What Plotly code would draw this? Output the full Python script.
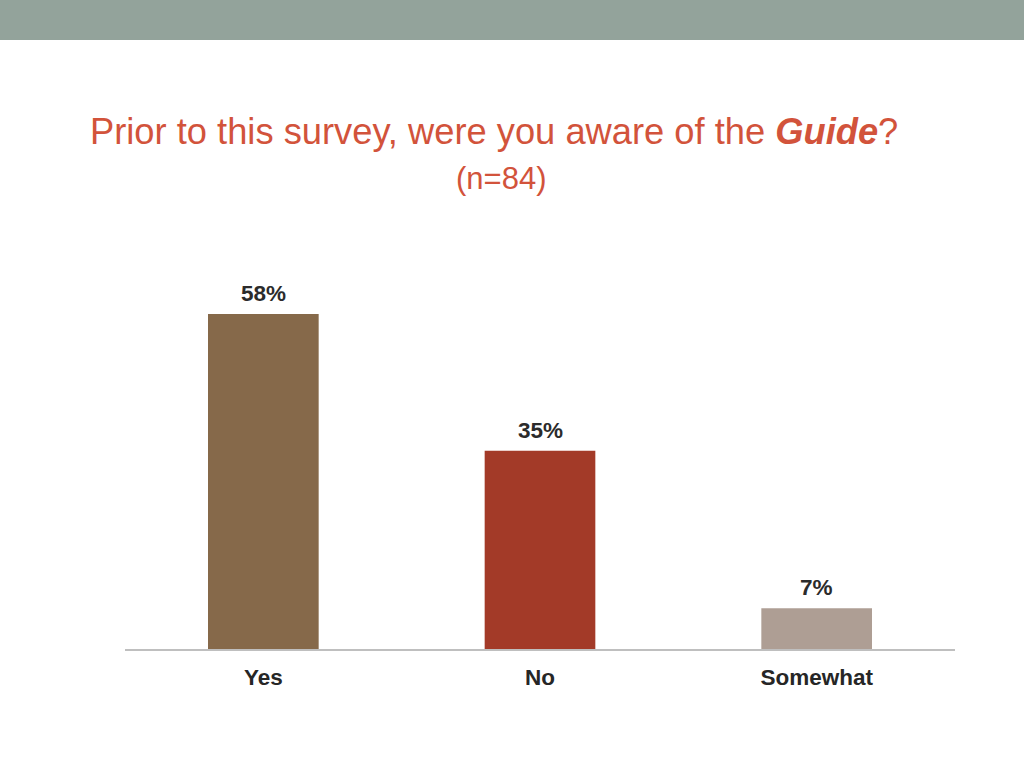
import plotly.graph_objects as go

categories = ["Yes", "No", "Somewhat"]
values = [58.3, 34.5, 7.1]
labels = ["58%", "35%", "7%"]
colors = ["#86694A", "#A33A28", "#AE9E94"]

fig = go.Figure()
fig.add_trace(go.Bar(
    x=categories, y=values,
    marker=dict(color=colors, line=dict(width=0)),
    width=0.4, hoverinfo="skip",
))

H0, H1 = 245, 649  # plot top/bottom in px
def py(p):
    return (H1 - p) / (H1 - H0)

annotations = [
    dict(text="Prior to this survey, were you aware of the <b><i>Guide</i></b>?",
         xref="paper", yref="paper", x=(494 - 125) / 830, y=py(131),
         xanchor="center", yanchor="middle", showarrow=False,
         font=dict(family="Liberation Sans, Arial", size=36.3, color="#D2533B")),
    dict(text="(n=84)",
         xref="paper", yref="paper", x=(501 - 125) / 830, y=py(178),
         xanchor="center", yanchor="middle", showarrow=False,
         font=dict(family="Liberation Sans, Arial", size=31, color="#D2533B")),
]
for c, v, t in zip(categories, values, labels):
    annotations.append(dict(
        text=t, x=c, y=v, xref="x", yref="y", xanchor="center", yanchor="bottom",
        yshift=6, showarrow=False,
        font=dict(family="Liberation Sans, Arial", size=22.5, color="#2B2B2B", weight="bold"),
    ))

fig.update_layout(
    width=1024, height=768,
    margin=dict(l=125, r=69, t=H0, b=768 - H1),
    paper_bgcolor="white", plot_bgcolor="white",
    showlegend=False,
    xaxis=dict(showline=True, linecolor="#BFBFBF", linewidth=1.5, ticks="",
               tickfont=dict(family="Liberation Sans, Arial", size=22.5, color="#262626", weight="bold"),
               fixedrange=True, ticklabelstandoff=7),
    yaxis=dict(range=[0, 70.3], visible=False, showgrid=False, fixedrange=True),
    font=dict(family="Liberation Sans, Arial"),
    shapes=[dict(type="rect", xref="paper", yref="paper", x0=-1, x1=2,
                 y0=py(40), y1=py(0) + 0.1, fillcolor="#93A39B", line=dict(width=0),
                 layer="below")],
    annotations=annotations,
)
fig.write_html("out.html", config={"displayModeBar": False, "staticPlot": True})

with open("out.html", "r", encoding="utf-8") as f:
    html = f.read()
html = html.replace("<head>", "<head><style>html,body{margin:0;padding:0;overflow:hidden;}</style>", 1)
with open("out.html", "w", encoding="utf-8") as f:
    f.write(html)
